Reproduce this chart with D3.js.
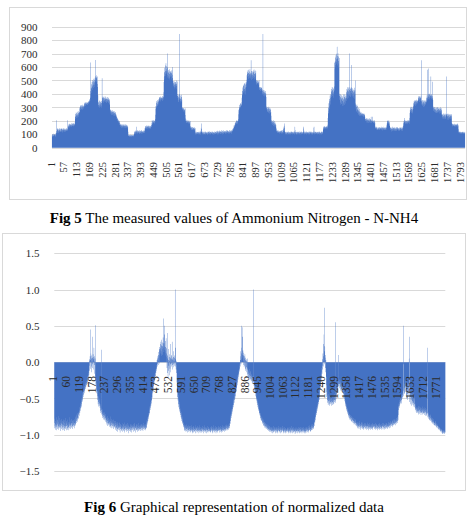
<!DOCTYPE html>
<html>
<head>
<meta charset="utf-8">
<script src="https://cdn.jsdelivr.net/npm/d3@7"></script>
<style>
  body { margin: 0; background: #fff; }
  svg { display: block; }
</style>
</head>
<body>
<svg id="chart" width="470" height="520"></svg>
<script>
const nh4Values = [
  92,85,101,78,96,88,104,90,83,99, 95,87,102,80,93,105,89,97,110,205, 124,118,139,112,131,145,122,109,136,128, 141,117,133,125,144,119,138,127,115,142,
  126,139,118,145,131,122,137,113,142,129, 135,120,146,127,133,116,140,124,138,131, 119,143,128,136,122,147,205,134,125,141, 158,149,172,163,155,178,166,151,174,160,
  169,157,176,162,181,154,171,165,159,178, 167,180,161,175,158,183,170,164,177,172, 188,232,214,251,228,262,240,219,257,245, 236,268,224,249,259,231,271,243,255,266,
  258,292,301,279,315,296,308,284,318,299, 287,311,304,293,320,282,309,297,314,290, 305,327,312,334,319,338,323,331,309,336, 325,329,316,340,322,333,318,337,326,341,
  328,345,336,352,339,361,348,372,633,398, 421,446,408,472,437,489,455,428,503,467, 442,495,478,512,451,487,505,468,521,493, 653,531,502,538,517,489,524,496,530,474,
  452,391,342,318,305,337,296,351,322,309, 345,328,301,339,316,348,312,333,297,516, 341,372,356,381,348,367,335,378,359,344, 370,352,383,339,365,357,376,346,362,331,
  368,351,377,342,360,336,372,355,330,364, 349,338,358,321,286,274,263,281,252,270, 259,277,244,268,255,279,241,266,250,273, 238,261,247,272,236,258,243,265,233,254,
  248,226,239,212,231,205,221,198,214,193, 207,186,201,195,183,199,188,171,163,178, 152,169,175,158,166,147,173,161,154,170, 149,177,162,156,168,145,172,151,164,159,
  166,153,174,147,161,170,144,158,167,150, 163,142,155,118,97,88,91,84,95,79, 89,93,82,96,86,90,83,94,87,92, 80,95,88,85,91,83,94,86,90,98,
  104,117,109,124,101,119,112,128,106,121, 155,114,126,103,118,130,110,123,107,127, 115,105,129,111,120,102,125,113,108,122, 131,116,104,127,112,119,106,124,118,110,
  121,109,128,114,125,107,133,146,139,157, 148,162,141,153,165,144,158,150,163,137, 155,147,160,143,166,151,138,159,146,164, 152,140,161,149,157,168,154,181,205,172,
  188,201,176,195,183,206,190,178,199,185, 203,192,211,246,289,311,297,334,302,348, 316,327,355,309,341,322,352,337,362,349, 371,358,378,344,366,381,353,374,360,369,
  357,376,348,372,363,385,351,379,368,412, 488,531,562,507,594,548,612,571,536,628, 583,552,605,569,541,597,523,700,556,514, 578,532,565,508,549,583,521,571,537,559,
  524,566,508,553,531,577,497,518,542,600, 483,462,497,456,478,441,493,468,452,489, 472,447,486,459,499,438,476,461,492,399, 367,384,342,391,356,375,338,397,361,846,
  372,348,389,336,365,352,394,341,377,358, 303,287,296,279,291,268,284,295,273,289, 262,281,276,292,244,218,201,193,207,188, 199,184,205,192,181,196,187,203,179,194,
  185,201,176,192,183,198,162,151,143,155, 138,149,132,152,141,135,154,129,147,137, 151,133,145,139,128,153,136,144,118,107, 96,113,102,119,98,109,115,101,117,104,
  111,99,116,103,120,97,108,114,101,118, 95,112,126,148,180,139,117,105,121,98, 110,116,102,119,96,107,113,100,118,104, 97,115,109,121,99,106,117,103,111,95,
  108,119,97,113,104,121,100,116,110,98, 122,105,117,101,114,96,119,107,112,103, 118,99,115,106,121,102,109,117,95,113, 104,120,98,111,107,116,100,119,103,110,
  115,101,124,108,119,97,127,111,105,122, 114,99,128,106,118,110,125,103,116,121, 100,130,109,117,104,126,112,98,123,107, 119,113,129,102,120,108,124,115,101,118,
  122,109,127,114,105,130,118,111,124,107, 129,116,103,125,112,120,108,131,117,106, 126,113,121,110,128,104,123,115,132,119, 127,138,124,142,133,149,141,165,152,158,
  171,163,184,176,192,169,188,198,181,205, 174,196,187,203,178,199,211,248,282,269, 301,291,318,287,326,305,297,331,314,322, 309,338,372,396,421,388,447,412,468,433,
  458,402,476,437,419,482,448,395,471,426, 489,452,478,506,538,561,527,549,574,512, 556,533,579,548,521,567,541,583,529,558, 547,515,650,538,571,502,554,527,566,509,
  543,574,518,561,533,582,507,549,526,568, 512,553,537,575,491,478,503,469,497,484, 472,499,481,466,494,487,475,502,445,431, 452,426,448,437,419,451,433,444,428,447,
  421,405,432,396,846,418,387,429,402,413, 381,426,394,409,386,422,391,403,377,306, 284,297,271,302,263,289,278,305,259,293, 268,287,255,299,274,262,291,257,282,266,
  238,206,193,178,201,185,197,169,188,204, 176,192,161,183,199,172,158,187,166,179, 155,171,149,137,124,118,129,110,126,115, 121,107,128,113,119,104,125,111,117,122,
  108,127,114,120,103,129,111,124,106,118, 131,115,109,126,142,137,156,163,180,148, 121,104,117,99,112,119,96,108,115,101, 118,97,110,114,103,120,98,107,116,100,
  112,99,117,104,119,96,110,115,102,118, 107,121,98,113,105,116,100,119,109,103, 114,97,120,106,155,132,117,101,111,118, 95,108,116,102,119,105,113,99,117,110,
  104,118,97,112,107,120,100,115,109,96, 119,103,114,108,121,99,117,105,112,101, 118,106,143,155,127,110,98,116,104,113, 119,100,108,115,97,111,120,103,109,117,
  102,114,99,118,106,112,97,120,108,115, 101,117,104,110,121,98,113,107,119,100, 116,105,111,97,118,109,103,148,155,121, 114,99,108,117,102,119,106,112,100,115,
  107,119,98,113,104,116,100,118,109,102, 117,96,112,121,105,110,99,115,108,120, 103,114,97,118,111,106,119,101,136,148, 155,142,158,137,151,160,144,156,139,153,
  147,158,141,155,149,161,143,153,170,221, 256,298,274,331,287,362,308,345,389,322, 371,398,349,418,376,437,392,451,404,428, 385,446,413,372,439,398,425,456,631,588,
  642,598,671,615,688,624,657,699,638,750, 682,611,664,703,627,679,596,645,668,402, 356,387,331,398,342,375,318,391,354,366, 325,383,347,309,372,338,395,314,361,329,
  378,342,395,317,366,351,388,329,372,345, 412,386,437,365,449,402,426,371,441,394, 418,452,383,700,429,396,445,378,421,436, 389,447,407,615,432,381,424,398,443,410,
  386,431,372,418,395,446,364,427,401,500, 328,291,316,274,305,268,322,287,259,311, 281,247,298,263,276,241,289,252,270,236, 259,244,268,233,255,249,238,262,246,253,
  241,256,233,250,238,255,229,247,252,236, 244,231,218,203,214,196,209,188,221,199, 212,185,206,217,193,204,182,215,198,210, 187,219,201,192,213,184,207,196,230,203,
  196,182,205,189,199,230,192,186,203,181, 197,188,204,179,195,187,158,146,139,152, 133,148,141,155,137,129,150,143,134,153, 140,131,147,136,154,142,130,149,138,145,
  151,137,146,132,155,141,128,149,135,153, 143,130,147,139,156,134,145,131,150,138, 144,129,152,136,148,133,157,171,186,199, 178,203,189,174,196,183,205,168,191,180,
  162,148,137,153,129,146,141,121,138,150, 127,143,135,155,124,147,132,151,139,126, 144,130,153,122,141,136,149,128,145,133, 154,125,139,148,131,152,137,123,146,134,
  142,129,151,136,124,147,138,153,131,145, 127,150,140,133,155,122,144,137,149,164, 183,197,176,205,188,220,191,179,203,185, 196,172,201,189,181,199,176,204,192,186,
  198,183,206,189,194,178,202,221,258,283, 266,297,274,305,259,288,271,301,264,292, 279,255,306,286,331,312,345,327,352,318, 339,355,323,347,311,342,334,356,321,349,
  336,352,328,345,357,371,348,382,362,376, 339,385,358,369,347,379,364,388,650,351, 322,343,309,355,328,317,349,302,338,321, 354,312,346,329,307,341,325,352,318,336,
  344,372,358,391,366,580,374,352,398,381, 363,590,377,395,368,401,359,386,372,393, 530,365,389,376,398,361,384,490,372,357, 306,284,297,271,303,265,289,278,301,259,
  292,268,283,257,299,274,261,295,280,266, 302,259,287,272,298,263,285,254,296,277, 269,289,258,301,274,262,293,281,247,232, 251,218,243,229,255,211,238,224,249,216,
  241,226,254,213,247,232,219,250,237,530, 244,209,252,228,235,248,221,239,207,253, 231,216,245,224,251,212,238,227,246,218, 234,249,181,165,174,158,179,167,161,176,
  163,171,157,178,166,159,175,162,169,156, 177,164,172,158,168,180,160,174,155,170, 163,137,118,109,116,105,120,111,107,119, 103,114,108,117,102,113,110,119,104,115,
  109,117,103,112,106,118,100,111,108,114
];

// normalized values, one per sample
const normValues = [
  -.84,-.91,-.78,-.88,-.93,-.81,-.86,-.9,-.76,-.89, -.94,-.83,-.87,-.79,-.92,-.85,-.8,-.9,-.74,-.88, -.93,-.82,-.86,-.91,-.77,-.89,-.84,-.95,-.8,-.87, -.9,-.78,-.92,-.85,-.83,-.88,-.94,-.81,-.86,-.9,
  -.82,-.89,-.93,-.79,-.87,-.91,-.84,-.95,-.8,-.88, -.86,-.92,-.77,-.9,-.85,-.94,-.81,-.88,-.83,-.91, -.87,-.79,-.93,-.85,-.9,-.82,-.89,-.94,-.76,-.86, -.91,-.83,-.88,-.8,-.92,-.85,-.87,-.9,-.78,-.84,
  -.86,-.9,-.81,-.88,-.84,-.92,-.79,-.87,-.83,-.89, -.8,-.86,-.91,-.78,-.84,-.88,-.76,-.85,-.82,-.87, -.74,-.81,-.78,-.84,-.72,-.79,-.76,-.82,-.7,-.77, -.73,-.69,-.78,-.71,-.66,-.74,-.68,-.62,-.7,-.64,
  -.6,-.67,-.56,-.63,-.58,-.52,-.61,-.49,-.55,-.5, -.46,-.53,-.42,-.48,-.39,-.45,-.41,-.36,-.43,-.38, -.33,-.4,-.35,-.3,-.37,-.28,-.34,-.31,-.26,-.32, -.29,-.24,-.3,-.21,-.27,-.19,-.25,-.15,-.22,-.12,
  -.18,-.05,.04,-.12,.02,.08,-.09,.03,.45,.12, -.06,.05,-.14,.09,.02,.35,-.08,.06,-.03,.11, .04,-.1,.07,.2,-.04,.01,.08,-.16,.05,-.2, .51,-.25,-.31,-.22,-.38,-.29,-.43,-.35,-.4,-.47,
  -.52,-.44,-.58,-.49,-.55,-.61,-.47,-.57,-.53,-.6, -.5,-.63,-.58,-.67,-.6,-.7,-.64,-.72,-.66,.17, -.69,-.74,-.65,-.71,-.77,-.68,-.73,-.79,-.7,-.76, -.72,-.8,-.74,-.69,-.78,-.75,-.82,-.71,-.77,-.8,
  -.76,-.83,-.79,-.86,-.74,-.81,-.88,-.78,-.84,-.8, -.87,-.77,-.85,-.82,-.89,-.79,-.83,-.86,-.75,-.88, -.81,-.9,-.84,-.78,-.87,-.82,-.91,-.8,-.85,-.88, -.83,-.9,-.86,-.79,-.92,-.84,-.88,-.81,-.9,-.85,
  -.89,-.84,-.93,-.87,-.81,-.91,-.86,-.95,-.83,-.9, -.88,-.92,-.85,-.96,-.82,-.89,-.93,-.87,-.91,-.84, -.94,-.88,-.9,-.83,-.97,-.86,-.92,-.89,-.85,-.95, -.91,-.87,-.93,-.84,-.9,-.96,-.88,-.92,-.86,-.94,
  -.9,-.85,-.95,-.88,-.92,-.83,-.97,-.89,-.91,-.86, -.94,-.88,-.93,-.9,-.85,-.96,-.87,-.92,-.89,-.95, -.84,-.91,-.98,-.88,-.93,-.86,-.9,-.95,-.89,-.92, -.87,-.96,-.9,-.85,-.94,-.91,-.88,-.97,-.86,-.93,
  -.91,-.87,-.94,-.89,-.85,-.92,-.96,-.88,-.9,-.84, -.93,-.89,-.95,-.86,-.91,-.88,-.97,-.9,-.85,-.93, -.89,-.94,-.87,-.92,-.96,-.86,-.9,-.93,-.88,-.95, -.84,-.91,-.89,-.94,-.87,-.92,-.9,-.86,-.95,-.88,
  -.92,-.87,-.9,-.94,-.85,-.91,-.88,-.93,-.86,-.9, -.95,-.84,-.89,-.92,-.87,-.91,-.86,-.93,-.88,-.9, -.85,-.92,-.89,-.94,-.87,-.9,-.83,-.91,-.8,-.86, -.78,-.83,-.76,-.81,-.73,-.78,-.7,-.75,-.67,-.72,
  -.64,-.7,-.61,-.66,-.58,-.63,-.55,-.6,-.52,-.57, -.48,-.53,-.44,-.49,-.4,-.36,-.42,-.31,-.37,-.28, -.33,-.24,-.29,-.2,-.26,-.17,-.22,-.14,-.19,-.1, -.15,-.07,-.12,-.04,-.09,.03,-.06,.05,-.03,.08,
  .02,.1,-.04,.14,.06,.18,-.02,.21,.09,.16, .25,.12,.19,.28,.08,.23,.15,.31,.11,.22, .18,.27,.1,.34,.2,.6,.14,.26,.17,.38, .22,.5,.13,.29,.09,.21,.16,.33,.07,.19,
  .12,-.08,.4,.05,-.15,.09,-.22,.03,-.12,.18, -.05,.07,-.18,.02,.11,-.09,.25,-.03,.06,-.14, .04,-.06,.1,-.02,.08,.28,-.04,.05,-.1,.03, .07,-.03,.15,-.07,.02,.06,-.05,.09,-.02,1,
  .04,-.06,.2,-.1,.02,-.15,-.04,-.28,-.42,-.36, -.48,-.4,-.53,-.45,-.58,-.5,-.62,-.55,-.65,-.58, -.68,-.61,-.7,-.64,-.73,-.67,-.76,-.69,-.78,-.72, -.81,-.75,-.83,-.78,-.85,-.8,-.87,-.82,-.89,-.84,
  -.9,-.86,-.93,-.88,-.95,-.87,-.91,-.94,-.89,-.96, -.86,-.92,-.9,-.95,-.88,-.93,-.97,-.89,-.91,-.94, -.87,-.96,-.9,-.93,-.88,-.95,-.92,-.89,-.97,-.91, -.94,-.88,-.96,-.9,-.93,-.87,-.95,-.92,-.98,-.89,
  -.93,-.96,-.89,-.94,-.91,-.97,-.88,-.95,-.92,-.9, -.96,-.87,-.93,-.98,-.9,-.94,-.91,-.89,-.95,-.92, -.97,-.88,-.94,-.9,-.96,-.93,-.89,-.95,-.91,-.98, -.9,-.94,-.87,-.96,-.92,-.95,-.89,-.93,-.97,-.91,
  -.95,-.9,-.97,-.92,-.88,-.94,-.96,-.91,-.93,-.89, -.98,-.92,-.95,-.9,-.94,-.87,-.96,-.93,-.91,-.97, -.89,-.95,-.92,-.94,-.9,-.98,-.91,-.93,-.96,-.88, -.94,-.97,-.9,-.95,-.92,-.89,-.96,-.93,-.91,-.95,
  -.92,-.96,-.89,-.94,-.97,-.91,-.93,-.88,-.95,-.9, -.96,-.92,-.98,-.89,-.94,-.91,-.95,-.87,-.93,-.97, -.9,-.94,-.92,-.96,-.88,-.95,-.91,-.93,-.98,-.9, -.94,-.89,-.96,-.92,-.95,-.9,-.97,-.93,-.88,-.94,
  -.91,-.95,-.89,-.93,-.97,-.9,-.94,-.92,-.96,-.88, -.93,-.91,-.95,-.89,-.97,-.92,-.94,-.9,-.96,-.87, -.93,-.9,-.95,-.91,-.94,-.88,-.92,-.96,-.89,-.93, -.9,-.94,-.87,-.92,-.95,-.88,-.91,-.86,-.93,-.89,
  -.92,-.87,-.94,-.89,-.91,-.86,-.93,-.88,-.9,-.85, -.91,-.84,-.88,-.79,-.85,-.75,-.81,-.72,-.77,-.68, -.74,-.65,-.71,-.62,-.68,-.59,-.65,-.56,-.62,-.53, -.59,-.5,-.56,-.47,-.52,-.44,-.5,-.41,-.47,-.38,
  -.42,-.35,-.4,-.3,-.36,-.26,-.32,-.22,-.28,-.18, -.24,-.15,-.2,-.11,-.17,-.08,-.13,-.05,-.1,-.02, .03,-.06,.08,.15,-.03,.5,.12,.04,.2,.48, .1,.35,.06,.16,-.04,.09,.02,.13,-.07,.05,
  .08,-.05,.11,.03,-.09,.06,-.12,.02,-.07,.04, -.14,.01,-.1,.05,-.17,-.08,-.2,-.13,-.22,-.16, -.11,-.24,-.18,-.09,-.21,-.15,-.25,-.12,-.19,-.23, -.14,-.26,-.2,-.17,-.24,-.28,-.19,-.22,-.3,-.25,
  -.27,-.2,1,-.29,-.33,-.26,-.36,-.31,-.4,-.35, -.43,-.38,-.47,-.41,-.5,-.44,-.53,-.48,-.56,-.51, -.59,-.54,-.62,-.57,-.65,-.6,-.67,-.63,-.7,-.66, -.72,-.68,-.74,-.7,-.77,-.72,-.79,-.75,-.81,-.77,
  -.8,-.76,-.83,-.78,-.85,-.8,-.82,-.87,-.79,-.84, -.88,-.82,-.86,-.9,-.83,-.88,-.85,-.91,-.84,-.89, -.87,-.92,-.85,-.9,-.88,-.93,-.86,-.91,-.89,-.94, -.87,-.92,-.9,-.95,-.88,-.93,-.91,-.96,-.89,-.94,
  -.92,-.96,-.9,-.94,-.97,-.91,-.95,-.89,-.93,-.98, -.9,-.95,-.92,-.96,-.88,-.94,-.97,-.91,-.93,-.95, -.89,-.96,-.92,-.98,-.9,-.94,-.91,-.97,-.93,-.89, -.95,-.92,-.96,-.9,-.98,-.93,-.91,-.95,-.88,-.94,
  -.97,-.92,-.95,-.9,-.96,-.93,-.89,-.98,-.91,-.94, -.96,-.9,-.93,-.97,-.92,-.95,-.88,-.94,-.91,-.98, -.93,-.96,-.9,-.95,-.92,-.97,-.89,-.94,-.91,-.96, -.93,-.98,-.9,-.95,-.92,-.94,-.97,-.91,-.96,-.93,
  -.9,-.95,-.93,-.98,-.91,-.96,-.89,-.94,-.97,-.92, -.95,-.9,-.98,-.93,-.96,-.91,-.94,-.88,-.97,-.92, -.95,-.9,-.93,-.98,-.91,-.96,-.94,-.89,-.97,-.92, -.95,-.91,-.96,-.93,-.99,-.9,-.94,-.97,-.92,-.95,
  -.93,-.97,-.9,-.95,-.92,-.98,-.91,-.94,-.96,-.89, -.95,-.92,-.97,-.9,-.94,-.98,-.91,-.96,-.93,-.89, -.97,-.92,-.95,-.9,-.96,-.93,-.98,-.91,-.94,-.96, -.9,-.95,-.92,-.97,-.89,-.94,-.96,-.91,-.98,-.93,
  -.95,-.9,-.96,-.92,-.98,-.93,-.89,-.95,-.91,-.97, -.93,-.9,-.96,-.92,-.94,-.88,-.97,-.91,-.95,-.9, -.93,-.87,-.94,-.9,-.96,-.89,-.92,-.95,-.88,-.93, -.9,-.94,-.86,-.91,-.88,-.93,-.85,-.9,-.87,-.92,
  -.86,-.9,-.84,-.88,-.82,-.78,-.83,-.74,-.8,-.71, -.76,-.68,-.73,-.65,-.7,-.62,-.67,-.59,-.64,-.56, -.61,-.53,-.58,-.5,-.55,-.46,-.52,-.42,-.48,-.36, -.31,-.38,-.26,-.33,-.2,-.27,-.14,-.22,-.08,-.16,
  -.05,.04,-.1,.12,.02,.25,-.06,.08,.38,.75, .15,-.03,.22,.06,-.08,.1,-.14,.03,-.2,-.32, -.41,-.48,-.38,-.52,-.45,-.56,-.47,-.59,-.5,-.54, -.44,-.57,-.49,-.6,-.46,-.53,-.58,-.48,-.55,-.51,
  -.57,-.47,-.54,-.6,-.49,-.56,-.52,-.59,-.46,-.55, -.5,-.58,-.45,-.53,-.57,-.48,-.55,-.44,-.52,-.49, -.56,.55,-.47,-.53,-.42,-.5,-.38,-.45,-.35,-.41, -.32,-.38,-.28,-.35,.1,-.3,-.26,-.33,-.24,-.3,
  -.27,-.36,-.3,-.39,-.25,-.34,-.28,-.37,-.32,-.4, -.29,-.38,-.33,-.41,-.3,-.36,-.42,-.35,-.44,-.38, -.47,-.41,-.5,-.45,-.54,-.48,-.57,-.52,-.6,-.55, -.62,-.58,-.65,-.6,-.67,-.63,-.69,-.65,-.71,-.67,
  -.73,-.68,-.75,-.7,-.77,-.72,-.74,-.79,-.71,-.76, -.8,-.73,-.78,-.75,-.81,-.77,-.74,-.82,-.78,-.8, -.76,-.83,-.79,-.81,-.77,-.84,-.8,-.86,-.78,-.83, -.81,-.85,-.79,-.87,-.82,-.84,-.8,-.88,-.83,-.86,
  -.84,-.89,-.82,-.87,-.91,-.85,-.88,-.83,-.9,-.86, -.92,-.84,-.89,-.87,-.81,-.9,-.86,-.93,-.85,-.88, -.82,-.91,-.87,-.84,-.89,-.92,-.86,-.9,-.83,-.88, -.91,-.85,-.93,-.87,-.89,-.84,-.9,-.86,-.92,-.88,
  -.86,-.91,-.84,-.88,-.93,-.87,-.9,-.85,-.89,-.92, -.83,-.88,-.91,-.86,-.94,-.89,-.85,-.9,-.87,-.92, -.84,-.89,-.93,-.86,-.9,-.88,-.91,-.85,-.92,-.87, -.89,-.84,-.91,-.86,-.93,-.88,-.9,-.85,-.89,-.87,
  -.9,-.85,-.92,-.88,-.86,-.91,-.84,-.89,-.93,-.87, -.9,-.86,-.92,-.85,-.88,-.91,-.87,-.94,-.86,-.89, -.92,-.85,-.9,-.88,-.93,-.86,-.91,-.84,-.89,-.87, -.92,-.86,-.9,-.85,-.91,-.88,-.93,-.87,-.89,-.84,
  -.88,-.92,-.86,-.9,-.84,-.89,-.93,-.87,-.91,-.85, -.88,-.92,-.86,-.9,-.87,-.83,-.91,-.86,-.89,-.84, -.9,-.87,-.92,-.85,-.88,-.82,-.9,-.86,-.89,-.83, -.87,-.91,-.84,-.88,-.81,-.86,-.9,-.83,-.87,-.85,
  -.82,-.88,-.85,-.8,-.87,-.83,-.89,-.81,-.86,-.84, -.79,-.87,-.82,-.85,-.8,-.86,-.78,-.84,-.81,-.87, -.79,-.83,-.77,-.85,-.8,-.82,-.76,-.84,-.78,-.81, -.75,-.8,-.73,-.66,-.61,-.57,-.63,-.55,-.6,-.52,
  -.58,-.5,-.56,-.47,-.54,-.49,-.57,-.46,-.52,-.44, -.5,-.42,-.48,-.45,-.03,.5,-.4,-.47,-.38,-.44, -.36,-.42,-.3,-.35,-.26,-.33,-.41,-.29,-.38,-.46, -.32,-.5,-.37,-.27,-.44,-.34,-.52,-.3,-.4,-.35,
  -.45,-.3,.05,.35,-.38,-.55,-.33,-.48,-.41,-.58, -.36,-.52,-.44,-.6,-.39,-.49,-.57,-.43,-.54,-.47, -.59,-.42,-.56,-.5,-.61,-.46,-.58,-.53,-.62,-.49, -.64,-.57,-.66,-.6,-.68,-.62,-.65,-.7,-.63,-.67,
  -.62,-.69,-.64,-.7,-.6,-.67,-.72,-.63,-.68,-.65, -.71,-.61,-.66,-.7,-.64,-.68,-.62,-.73,-.66,-.69, -.63,-.7,-.65,-.72,-.67,-.61,-.69,-.64,-.71,-.66, -.7,-.62,-.68,-.73,-.65,-.7,-.67,-.74,-.63,-.69,
  -.66,-.72,-.68,-.74,-.65,-.7,-.2,.2,-.71,-.76, -.69,-.74,-.78,-.71,-.76,-.73,-.79,-.75,-.8,-.72, -.77,-.81,-.74,-.79,-.76,-.82,-.78,-.8,-.84,-.77, -.82,-.79,-.85,-.81,-.83,-.78,-.86,-.82,-.84,-.87,
  -.83,-.87,-.81,-.86,-.84,-.88,-.82,-.89,-.85,-.87, -.9,-.84,-.88,-.86,-.91,-.87,-.89,-.92,-.88,-.9, -.93,-.89,-.91,-.94,-.9,-.92,-.95,-.91,-.93,-.96, -.92,-.94,-.97,-.93,-.95,-.98,-.94,-.96,-.99,-.95,
  -.97,-.93,-.98,-.95,-.99,-.96,-.94,-.98,-.96,-.97
];

// category labels shown under each chart
const topTicks = [1,57,113,169,225,281,337,393,449,505,561,617,673,729,785,841,897,953,1009,1065,1121,1177,1233,1289,1345,1401,1457,1513,1569,1625,1681,1737,1793];
const bottomTicks = [1,60,119,178,237,296,355,414,473,532,591,650,709,768,827,886,945,1004,1063,1122,1181,1240,1299,1358,1417,1476,1535,1594,1653,1712,1771];
const topYTicks = [0,100,200,300,400,500,600,700,800,900];
const bottomYTicks = [-1.5,-1,-0.5,0,0.5,1,1.5];

const serif = '"Liberation Serif", "Times New Roman", serif';
const barColor = '#4472c4';
const gridColor = '#d9d9d9';
const textColor = '#2b2b2b';

const svg = d3.select('#chart');

// chart frames
svg.append('rect')
    .attr('x', 9.5).attr('y', 7.5)
    .attr('width', 457).attr('height', 192)
    .attr('fill', '#fff').attr('stroke', gridColor)

svg.append('rect')
    .attr('x', 2.5).attr('y', 233.5)
    .attr('width', 463).attr('height', 257)
    .attr('fill', '#fff').attr('stroke', gridColor)

// the bars are far narrower than a pixel, so all of them go into one path:
// a dense run fills solid and a lone tall bar shows as a faint hair
function drawBars(g, values, x, y) {
    const bw = x.bandwidth()
    const w = bw * 1.6
    const p = d3.path()
    values.forEach((d, i) => {
        const x0 = x(i + 1) + bw / 2 - w / 2
        const y0 = y(Math.max(0, d))
        const y1 = y(Math.min(0, d))
        p.rect(x0, y0, w, y1 - y0)
    })
    g.append('path')
        .attr('d', p.toString())
        .attr('fill', barColor)
}

function drawGrid(g, ticks, x, y) {
    g.selectAll('line')
        .data(ticks)
        .join('line')
        .attr('x1', x.range()[0])
        .attr('x2', x.range()[1])
        .attr('y1', d => Math.round(y(d)) + 0.5)
        .attr('y2', d => Math.round(y(d)) + 0.5)
        .attr('stroke', gridColor)
}

function drawXLabels(yPos, x, ticks, gap, size) {
    const ax = svg.append('g')
        .attr('transform', `translate(0,${yPos})`)
        .call(d3.axisBottom(x).tickValues(ticks).tickSize(0))
    ax.select('.domain').remove()
    ax.attr('font-family', serif).attr('font-size', size).attr('color', textColor)
    ax.selectAll('text')
        .attr('transform', 'rotate(-90)')
        .attr('x', -gap)
        .attr('y', -1.5)
        .attr('dy', '0.35em')
        .attr('text-anchor', 'end')
}

function drawYLabels(xPos, y, ticks, size) {
    const ax = svg.append('g')
        .attr('transform', `translate(${xPos},0)`)
        .call(d3.axisLeft(y).tickValues(ticks).tickSize(0).tickPadding(0))
    ax.select('.domain').remove()
    ax.attr('font-family', serif).attr('font-size', size).attr('color', textColor)
    ax.selectAll('text').attr('dy', '0.33em')
}

// ---- Fig 5 ----
const n = nh4Values.length
const xTop = d3.scaleBand().domain(d3.range(1, n + 1)).range([52, 465])
const yTop = d3.scaleLinear().domain([0, 900]).range([147.7, 26.7])

drawGrid(svg.append('g'), topYTicks, xTop, yTop)
drawBars(svg.append('g'), nh4Values, xTop, yTop)
drawYLabels(37.5, yTop, topYTicks, 11)
drawXLabels(yTop(0), xTop, topTicks, 14.3, 10.5)

const cap1 = svg.append('text')
    .attr('x', 234).attr('y', 222.5)
    .attr('text-anchor', 'middle')
    .attr('font-family', serif).attr('font-size', 15).attr('fill', '#000')
cap1.append('tspan').attr('font-weight', 'bold').text('Fig 5')
cap1.append('tspan').text(' The measured values of Ammonium Nitrogen - N-NH4')

// ---- Fig 6 ----
const m = normValues.length
const xBot = d3.scaleBand().domain(d3.range(1, m + 1)).range([54.3, 445.3])
const yBot = d3.scaleLinear().domain([-1.5, 1.5]).range([471, 253.3])

drawGrid(svg.append('g'), bottomYTicks, xBot, yBot)
drawBars(svg.append('g'), normValues, xBot, yBot)
drawYLabels(39.5, yBot, bottomYTicks, 11)
drawXLabels(yBot(0), xBot, bottomTicks, 13.8, 11.5)

const cap2 = svg.append('text')
    .attr('x', 234).attr('y', 511.5)
    .attr('text-anchor', 'middle')
    .attr('font-family', serif).attr('font-size', 15).attr('fill', '#000')
cap2.append('tspan').attr('font-weight', 'bold').text('Fig 6')
cap2.append('tspan').text(' Graphical representation of normalized data')
</script>
</body>
</html>
